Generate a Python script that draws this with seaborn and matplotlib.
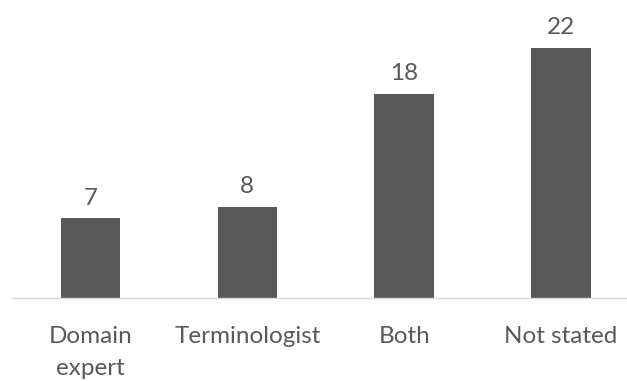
import matplotlib
matplotlib.use("Agg")
import matplotlib.pyplot as plt
import seaborn as sns
import pandas as pd

categories = ["Domain\nexpert", "Terminologist", "Both", "Not stated"]
values = [7, 8, 18, 22]

sns.set_theme(style="white")
plt.rcParams['font.family'] = ['Lato', 'DejaVu Sans']

df = pd.DataFrame({"cat": categories, "val": values})

fig = plt.figure(figsize=(6.27, 3.81), dpi=100)
top_px = 24 * 11.36
ax = fig.add_axes([12/627, 83/381, 615/627, top_px/381])

sns.barplot(data=df, x="cat", y="val", color="#595959", saturation=1, width=0.38, ax=ax)
for p in ax.patches:
    p.set_edgecolor("none")
ax.set_xlim(-0.5, 3.42)
ax.set_ylim(0, 24)
ax.set_xlabel("")
ax.set_ylabel("")
ax.set_yticks([])
for s in ["top", "right", "left"]:
    ax.spines[s].set_visible(False)
ax.spines["bottom"].set_color("#d9d9d9")
ax.spines["bottom"].set_linewidth(1)
ax.tick_params(axis="x", length=0, pad=20, labelsize=17.5, labelcolor="#595959")
for lbl in ax.get_xticklabels():
    lbl.set_linespacing(1.65)
for container in ax.containers:
    ax.bar_label(container, padding=7, fontsize=17.5, color="#595959")

fig.savefig("out.png", dpi=100)
